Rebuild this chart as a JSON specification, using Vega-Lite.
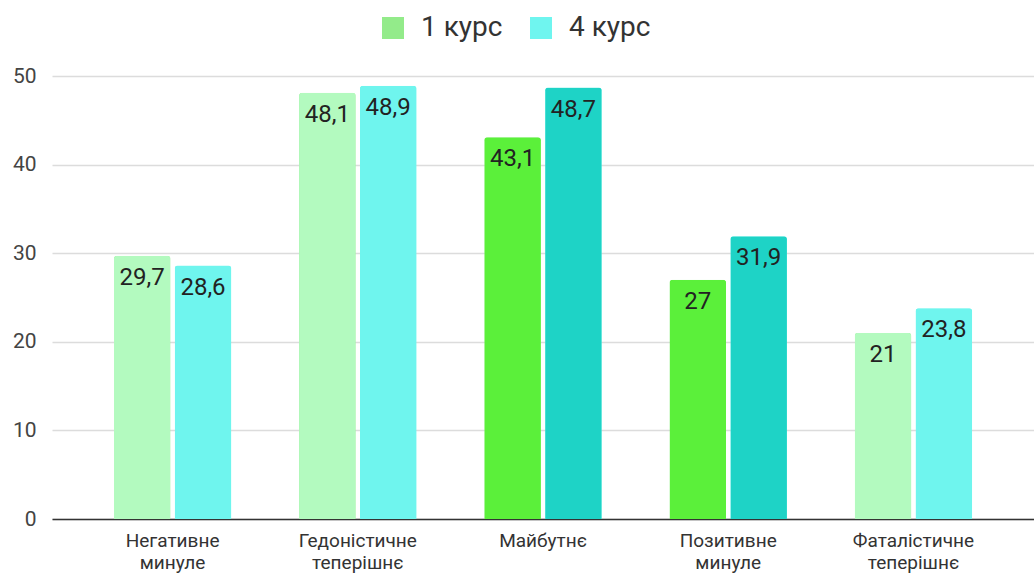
{
  "$schema": "https://vega.github.io/schema/vega-lite/v6.json",
  "width": 982,
  "height": 443,
  "autosize": {"type": "none"},
  "padding": {"left": 52, "top": 76, "right": 0, "bottom": 55},
  "background": "white",
  "config": {
    "view": {"stroke": null},
    "font": "Roboto",
    "locale": {"number": {"decimal": ",", "thousands": " ", "grouping": [3], "currency": ["", " ₴"]}}
  },
  "data": {
    "values": [
      {"category": "Негативне минуле", "series": "1 курс", "value": 29.7, "shade": "1 pale"},
      {"category": "Негативне минуле", "series": "4 курс", "value": 28.6, "shade": "4 pale"},
      {"category": "Гедоністичне теперішнє", "series": "1 курс", "value": 48.1, "shade": "1 pale"},
      {"category": "Гедоністичне теперішнє", "series": "4 курс", "value": 48.9, "shade": "4 pale"},
      {"category": "Майбутнє", "series": "1 курс", "value": 43.1, "shade": "1 vivid"},
      {"category": "Майбутнє", "series": "4 курс", "value": 48.7, "shade": "4 vivid"},
      {"category": "Позитивне минуле", "series": "1 курс", "value": 27, "shade": "1 vivid"},
      {"category": "Позитивне минуле", "series": "4 курс", "value": 31.9, "shade": "4 vivid"},
      {"category": "Фаталістичне теперішнє", "series": "1 курс", "value": 21, "shade": "1 pale"},
      {"category": "Фаталістичне теперішнє", "series": "4 курс", "value": 23.8, "shade": "4 pale"}
    ]
  },
  "encoding": {
    "x": {
      "field": "category", "type": "nominal", "sort": null,
      "scale": {"paddingInner": 0.366, "paddingOuter": 0.334},
      "axis": {
        "title": null, "labelAngle": 0, "labelFontSize": 19, "labelColor": "#333",
        "labelExpr": "split(datum.label, ' ')", "labelLineHeight": 22,
        "ticks": false, "domainColor": "#333", "domainWidth": 1.5, "labelPadding": 12
      }
    },
    "xOffset": {"field": "series", "type": "nominal", "scale": {"paddingInner": 0.07}},
    "y": {
      "field": "value", "type": "quantitative",
      "scale": {"domain": [0, 50]},
      "axis": {
        "title": null, "values": [0, 10, 20, 30, 40, 50], "labelFontSize": 21, "labelColor": "#444",
        "gridColor": "#dcdcdc", "gridWidth": 1.5, "domain": false, "ticks": false, "labelPadding": 16
      }
    }
  },
  "layer": [
    {
      "mark": {"type": "bar", "cornerRadiusTopLeft": 3, "cornerRadiusTopRight": 3},
      "encoding": {
        "color": {
          "field": "series", "type": "nominal",
          "scale": {"domain": ["1 курс", "4 курс"], "range": ["#93eb8a", "#6ff5ef"]},
          "legend": {
            "title": null, "orient": "none", "direction": "horizontal",
            "legendX": 327, "legendY": -62,
            "symbolType": "square", "symbolSize": 484, "symbolStrokeWidth": 0,
            "labelFontSize": 28, "labelColor": "#333", "labelOffset": 14, "columnPadding": 24
          }
        }
      }
    },
    {
      "mark": {"type": "bar", "cornerRadiusTopLeft": 3, "cornerRadiusTopRight": 3},
      "encoding": {
        "fill": {
          "field": "shade", "type": "nominal",
          "scale": {"domain": ["1 pale", "4 pale", "1 vivid", "4 vivid"], "range": ["#b3fabf", "#6ff5ee", "#5bf03a", "#1ed3c6"]},
          "legend": null
        }
      }
    },
    {
      "mark": {"type": "text", "baseline": "middle", "dy": 22, "fontSize": 24, "color": "#222"},
      "encoding": {
        "text": {"field": "value", "type": "quantitative", "format": "~g"}
      }
    }
  ]
}
